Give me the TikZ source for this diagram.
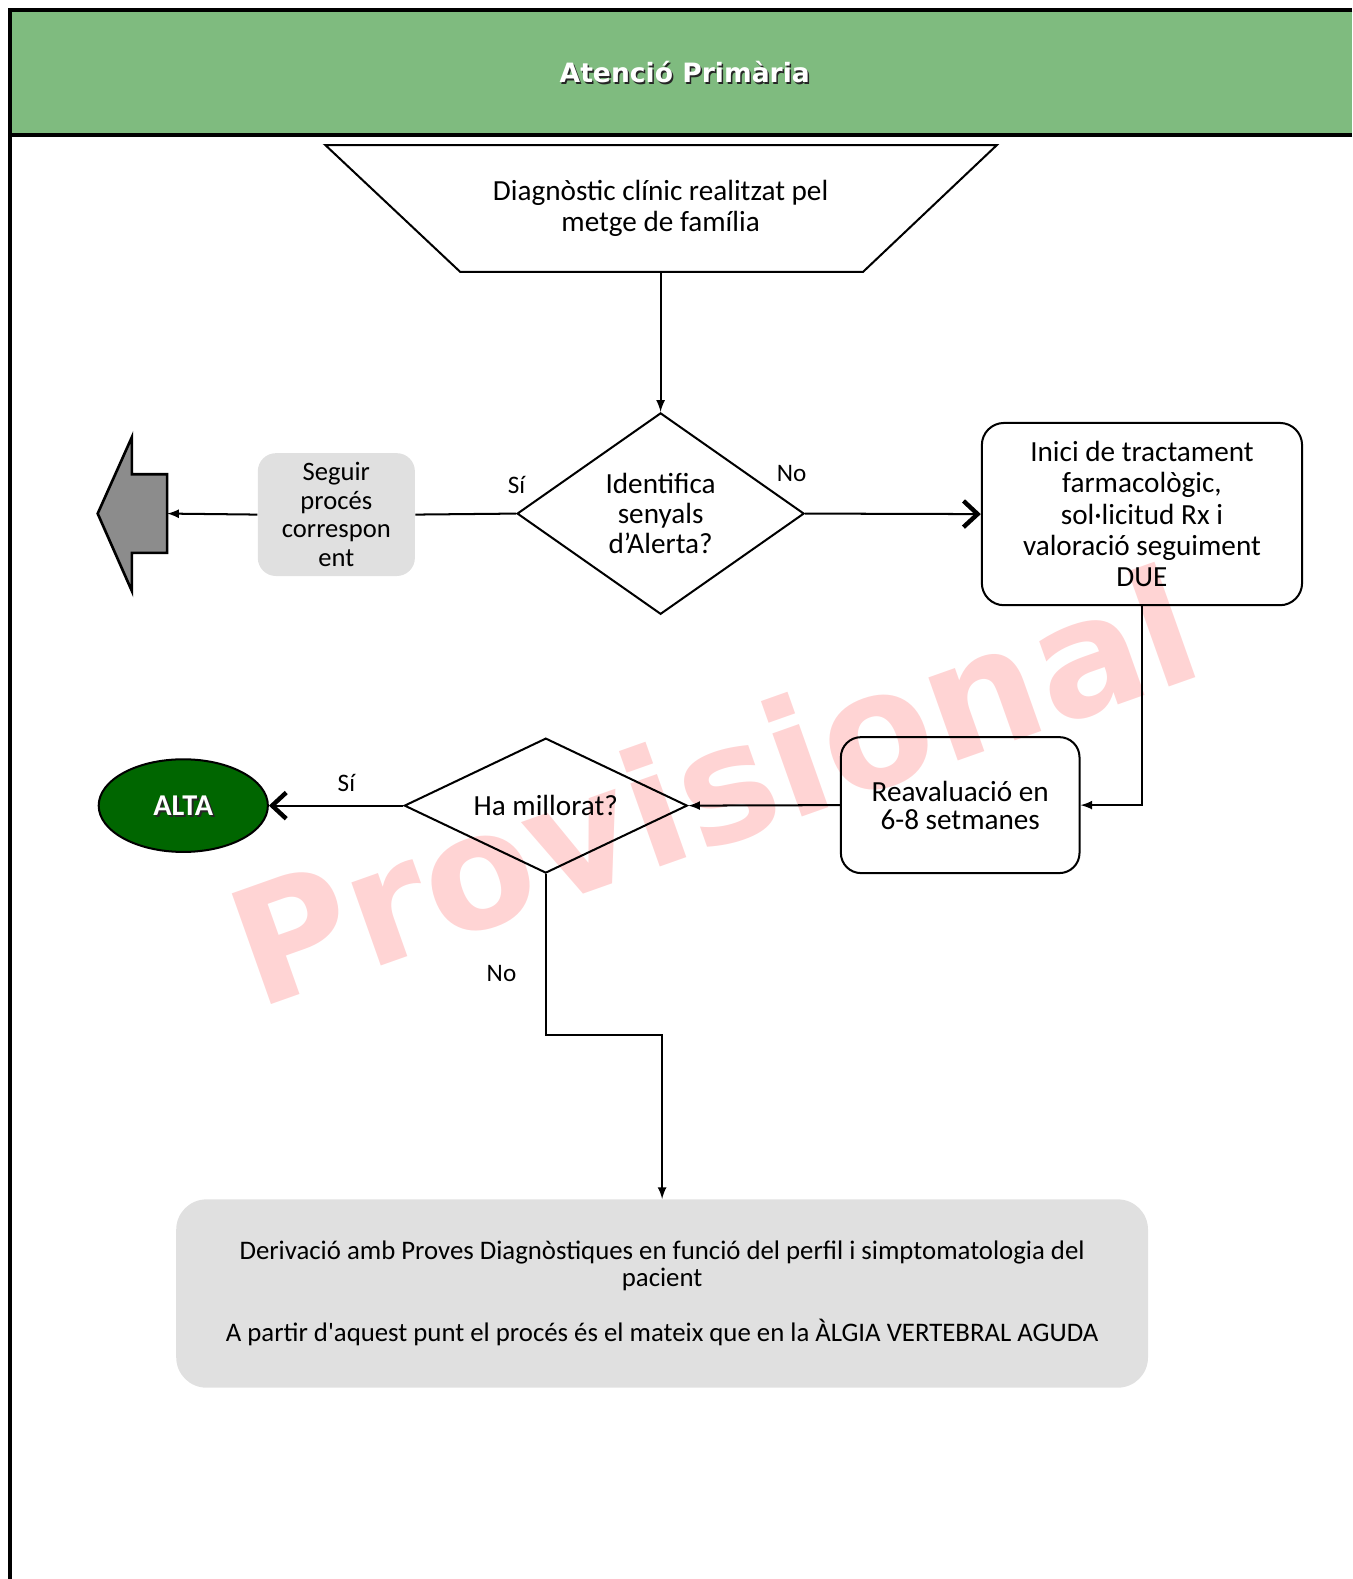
\documentclass[tikz,border=0pt]{standalone}
\usepackage{fontspec}
\setmainfont{Carlito}[Ligatures=TeXOff]
\newfontfamily\headfont{DejaVu Sans}
\usepackage{xcolor}
\usepackage{tikz}
\usetikzlibrary{arrows,arrows.meta,shapes.geometric}

\definecolor{headgreen}{RGB}{127,187,127}
\definecolor{altagreen}{RGB}{0,102,0}
\definecolor{boxgray}{RGB}{224,224,224}
\definecolor{exitgray}{RGB}{140,140,140}
\definecolor{markpink}{RGB}{255,212,212}

\begin{document}
\begin{tikzpicture}[x=0.5pt, y=-0.5pt,
                        flowline/.style={line width=1pt},
                        smallhead/.style={flowline, -latex},
                        bighead/.style={flowline, -{Straight Barb[length=7pt,width=13pt,line width=2.2pt]}},
                        decision/.style={diamond, draw, line width=1pt, inner sep=0pt, align=center, font=\fontsize{14.5}{15}\selectfont},
                        roundbox/.style={rectangle, rounded corners=11pt, draw, line width=1pt, align=center, font=\fontsize{14.5}{15.5}\selectfont},
                        graybox/.style={rectangle, rounded corners=9pt, fill=boxgray, align=center},
                        lbl/.style={font=\fontsize{12.5}{14}\selectfont}]
                        \useasboundingbox (0,0) rectangle (1343,1568);
                        \fill[headgreen] (10,10) rectangle (1343,134);
                        \draw[line width=1.6pt] (1343,10) -- (10,10) -- (10,1568);
                        \draw[line width=1.6pt] (10,134) -- (1343,134);
                        \node[text=black!85, font=\headfont\bfseries\fontsize{13.2}{15}\selectfont] (headshadow) at (681.5,73.5) {Atenció Primària};
                        \node[text=white, font=\headfont\bfseries\fontsize{13.2}{15}\selectfont] (head) at (680,72) {Atenció Primària};
                        \node[rotate=19.5, text=markpink, font=\headfont\bfseries\fontsize{80}{84}\selectfont] (mark) at (708,779) {Provisional};
                        \draw[line width=1pt] (323,144) -- (990,144) -- (857,270) -- (457,270) -- cycle;
                        \node[align=center, font=\fontsize{14.5}{15}\selectfont] (diag) at (656,207) {Diagnòstic clínic realitzat pel\\metge de família};
                        \coordinate (diagbot) at (656,270);
                        \node[decision, shape aspect=1.425, minimum width=142.5pt, minimum height=100pt] (ident) at (656,510) {Identifica\\senyals\\d’Alerta?};
                        \node[graybox, minimum width=78pt, minimum height=61pt, font=\fontsize{13.2}{14.2}\selectfont] (seguir) at (334,511) {Seguir\\procés\\correspon\\ent};
                        \filldraw[fill=exitgray, draw=black, line width=1.3pt] (97,510) -- (131,434) -- (131,471) -- (166,471) -- (166,549) -- (131,549) -- (131,587) -- cycle;
                        \coordinate (exit) at (166,510);
                        \node[roundbox, minimum width=159pt, minimum height=90.5pt] (inici) at (1134,510.5) {Inici de tractament\\farmacològic,\\sol·licitud Rx i\\valoració seguiment\\DUE};
                        \node[roundbox, rounded corners=10pt, minimum width=118.5pt, minimum height=67.5pt, font=\fontsize{14.5}{14}\selectfont] (reav) at (953.5,799.5) {Reavaluació en\\6-8 setmanes};
                        \node[decision, shape aspect=2.1, minimum width=140.5pt, minimum height=67pt] (millora) at (542,800) {Ha millorat?};
                        \node[ellipse, draw, fill=altagreen, line width=1pt, minimum width=84pt, minimum height=46pt] (alta) at (182,800) {};
                        \node[text=black!85, font=\bfseries\fontsize{15}{17}\selectfont] (altashadow) at (184,802) {ALTA};
                        \node[text=white, font=\bfseries\fontsize{15}{17}\selectfont] (altatext) at (182,800) {ALTA};
                        \node[graybox, rounded corners=15pt, minimum width=482.5pt, minimum height=93.5pt, font=\fontsize{13.3}{13.5}\selectfont] (deriv) at (657.5,1284.5) {Derivació amb Proves Diagnòstiques en funció del perfil i simptomatologia del\\pacient\\[14pt]A partir d'aquest punt el procés és el mateix que en la ÀLGIA VERTEBRAL AGUDA};
                        \coordinate (turn) at (542,1028);
                        \draw[smallhead] (diagbot) -- (ident.north);
                        \draw[flowline] (ident.west) -- (seguir.east);
                        \draw[smallhead] (seguir.west) -- (exit);
                        \draw[bighead] (ident.east) -- (inici.west);
                        \draw[smallhead] (inici.south) |- (reav.east);
                        \draw[smallhead] (reav.west) -- (millora.east);
                        \draw[bighead] (millora.west) -- (alta.east);
                        \draw[smallhead] (millora.south) -- (turn) -| (deriv.north);
                        \node[lbl] (si1) at (513,482) {Sí};
                        \node[lbl] (no1) at (786,470) {No};
                        \node[lbl] (si2) at (344,778) {Sí};
                        \node[lbl] (no2) at (498,967) {No};
                    \end{tikzpicture}
\end{document}
